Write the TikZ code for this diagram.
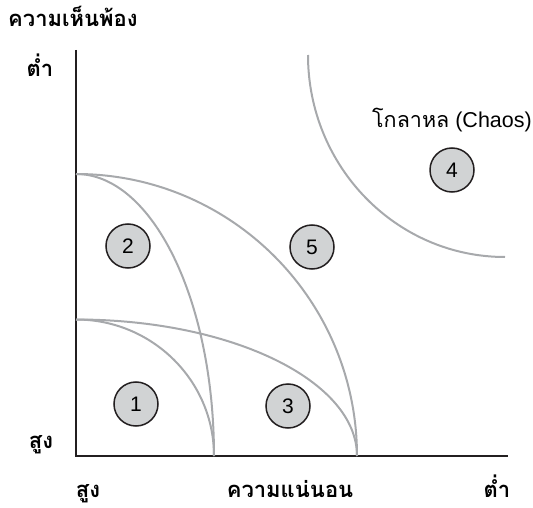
\documentclass[tikz,border=0pt]{standalone}
\usepackage{fontspec}
\setmainfont{Liberation Sans}
\newfontfamily\thaifont[Script=Thai]{Loma}
\usepackage{tikz}
\usetikzlibrary{positioning}
\definecolor{mydark}{RGB}{35,31,32}
\definecolor{mygray}{RGB}{167,169,172}
\definecolor{hdrgray}{RGB}{209,211,212}
\tikzset{
  axis/.style={line width=2.4pt, color=mydark},
  zone/.style={line width=2pt, color=mygray},
  numcirc/.style={circle, draw=mydark, fill=hdrgray, line width=1.5pt,
    minimum size=44pt, inner sep=0pt, font=\fontsize{21}{21}\selectfont},
  lbl/.style={font=\thaifont\bfseries\fontsize{22}{22}\selectfont, anchor=base, inner sep=0pt},
  chaoslbl/.style={anchor=base west, inner sep=0pt, font=\fontsize{21.5}{21.5}\selectfont}
}
\begin{document}
\begin{tikzpicture}[x=1pt, y=1pt]
  \useasboundingbox (0,0) rectangle (533,507);

  % Axes
  \coordinate (O) at (76,51);
  \coordinate (ytop) at (76,457);
  \coordinate (xend) at (508,51);
  \draw[axis] (ytop) -- (O) -- (xend);

  % Zone curves
  \draw[zone] (76,187.5) arc[start angle=90, end angle=0, x radius=138, y radius=136.5];
  \draw[zone] (76,333) arc[start angle=90, end angle=0, x radius=138, y radius=282];
  \draw[zone] (76,187.5) arc[start angle=90, end angle=0, x radius=281, y radius=136.5];
  \draw[zone] (76,333) arc[start angle=90, end angle=0, x radius=281, y radius=282];

  % Chaos curve
  \draw[zone] (308,452) arc[start angle=180, end angle=270, x radius=197, y radius=202];

  % Circles
  \node[numcirc] (n1) at (136,103) {1};
  \node[numcirc] (n2) at (128,261) {2};
  \node[numcirc] (n3) at (288,101) {3};
  \node[numcirc] (n4) at (452,337) {4};
  \node[numcirc] (n5) at (312,260) {5};

  % Labels
  \node[lbl, anchor=base west] (agree) at (8,480) {ความเห็นพ้อง};
  \node[lbl] (ylow) at (40,430) {ต่ำ};
  \node[lbl] (yhigh) at (41,59) {สูง};
  \node[lbl] (xhigh) at (88,10) {สูง};
  \node[lbl] (certain) at (290,10) {ความแน่นอน};
  \node[lbl] (xlow) at (497,10) {ต่ำ};
  \node[chaoslbl] (chaos) at (372,379) {{\thaifont โกลาหล} (Chaos)};
\end{tikzpicture}
\end{document}
